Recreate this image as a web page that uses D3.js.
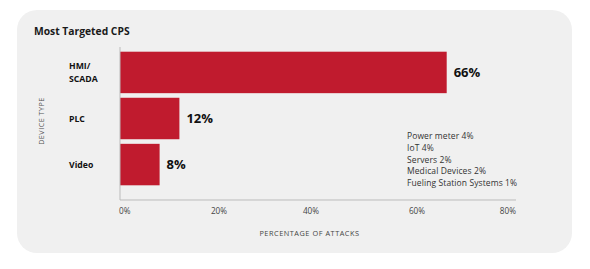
<!DOCTYPE html>
<html><head><meta charset="utf-8">
<script src="https://cdn.jsdelivr.net/npm/d3@7"></script>
<style>
html,body{margin:0;padding:0;background:#fff;}
svg{display:block;}
text{font-family:"Open Sans",sans-serif;}
</style></head>
<body>
<svg id="c" width="590" height="269"></svg>
<script>
const categories = [["HMI/","SCADA"],["PLC"],["Video"]];
const values = [66, 12, 8];
const otherDevices = ["Power meter","IoT","Servers","Medical Devices","Fueling Station Systems"];
const otherValues = [4, 4, 2, 2, 1];
const ticks = [0, 20, 40, 60, 80];

const svg = d3.select("#c");
svg.append("rect").attr("x",17).attr("y",10).attr("width",555).attr("height",243)
  .attr("rx",20).attr("fill","#f0f0f0");

svg.append("text").attr("x",34).attr("y",35).attr("font-size",10.3).attr("font-weight",700)
  .attr("fill","#1a1a1a").text("Most Targeted CPS");

const x = d3.scaleLinear().domain([0,80]).range([120,516]);
const y = d3.scaleBand().domain(d3.range(values.length)).range([49.4,187.6]).paddingInner(0.1).paddingOuter(0.05);

svg.selectAll("rect.bar").data(values).join("rect").attr("class","bar")
  .attr("x",x(0)).attr("y",(d,i)=>y(i)).attr("width",d=>x(d)-x(0)).attr("height",y.bandwidth())
  .attr("fill","#c01b2e");

svg.selectAll("text.val").data(values).join("text").attr("class","val")
  .attr("x",d=>x(d)+7).attr("y",(d,i)=>y(i)+y.bandwidth()/2+4.6)
  .attr("font-size",13).attr("font-weight",700).attr("fill","#111").text(d=>d+"%");

// axes lines
svg.append("line").attr("x1",x(0)).attr("x2",x(0)).attr("y1",47).attr("y2",200).attr("stroke","#bbb").attr("stroke-width",1);
svg.append("line").attr("x1",x(0)).attr("x2",x(80)).attr("y1",200).attr("y2",200).attr("stroke","#bbb").attr("stroke-width",1);

// category labels
const cat = svg.selectAll("text.cat").data(categories).join("text").attr("class","cat")
  .attr("x",69).attr("font-size",8.7).attr("font-weight",700).attr("fill","#111")
  .attr("y",(d,i)=>y(i)+y.bandwidth()/2+3 - (d.length-1)*6.2);
cat.selectAll("tspan").data(d=>d).join("tspan").attr("x",69).attr("dy",(d,j)=>j?12.4:0).text(d=>d);

svg.append("text").attr("transform","translate(44,121) rotate(-90)").attr("text-anchor","middle")
  .attr("font-size",7.2).attr("fill","#555").attr("letter-spacing",0.5).text("DEVICE TYPE");

svg.selectAll("text.tick").data(ticks).join("text").attr("class","tick")
  .attr("x",(d,i)=>i===0?x(d)-1:i===ticks.length-1?x(d):x(d)-(i===2?7:0))
  .attr("text-anchor",(d,i)=>i===0?"start":i===ticks.length-1?"end":"middle")
  .attr("y",214).attr("font-size",8.2).attr("fill","#444").text(d=>d+"%");

svg.append("text").attr("x",309.5).attr("y",235.5).attr("text-anchor","middle")
  .attr("font-size",7.3).attr("fill","#444").attr("letter-spacing",0.55).text("PERCENTAGE OF ATTACKS");

svg.selectAll("text.other").data(otherDevices).join("text").attr("class","other")
  .attr("x",407).attr("y",(d,i)=>139+i*11.75).attr("font-size",8.5).attr("fill","#333")
  .attr("letter-spacing",0.1)
  .text((d,i)=>d+" "+otherValues[i]+"%");
</script>
</body></html>
